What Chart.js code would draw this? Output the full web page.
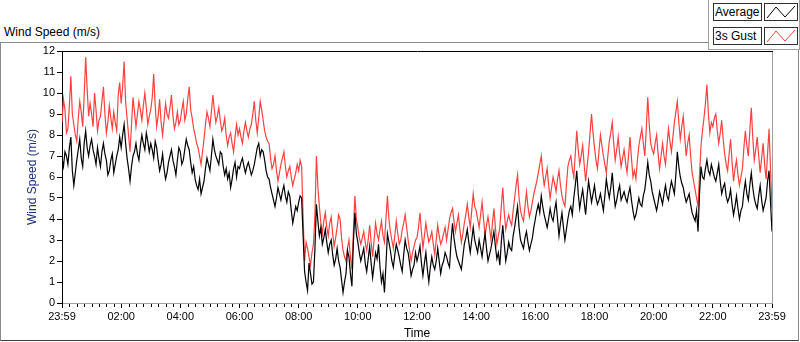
<!DOCTYPE html>
<html>
<head>
<meta charset="utf-8">
<script src="https://cdn.jsdelivr.net/npm/chart.js@4.4.1/dist/chart.umd.min.js"></script>
<style>
  html, body { margin: 0; padding: 0; background: #fff; }
  body { width: 800px; height: 342px; position: relative; overflow: hidden; font-family: "Liberation Sans", sans-serif; }
  #wrap { position: absolute; left: 0; top: 0; width: 800px; height: 342px; }
  .frame { position: absolute; left: 0; top: 42px; width: 797px; height: 297px; border: 1px solid #8a8a8a; border-bottom-color: #404040; }
  .topLabel { position: absolute; left: 4px; top: 25px; font-size: 12px; color: #000; }
  .legendPanel { position: absolute; left: 708px; top: -1px; width: 90px; height: 49px; border: 1px solid #a0a0a0; background: #fff; }
  .legText { position: absolute; left: 713px; width: 46px; height: 16px; border: 1px solid #303030; background: #fff; font-size: 12px; line-height: 16px; padding-left: 1px; }
  .legIcon { position: absolute; left: 764px; width: 32px; height: 16px; border: 1px solid #303030; background: #fff; }
</style>
</head>
<body>
<div class="frame"></div>
<div class="topLabel">Wind Speed (m/s)</div>
<div class="legendPanel"></div>
<div class="legText" style="top:3px">Average</div>
<div class="legIcon" style="top:3px"><svg width="32" height="16"><polyline points="2,14 11,3 20,13 30,2" fill="none" stroke="#000" stroke-width="1"/></svg></div>
<div class="legText" style="top:27px">3s Gust</div>
<div class="legIcon" style="top:27px"><svg width="32" height="16"><polyline points="2,14 11,3 20,13 30,2" fill="none" stroke="#ff4040" stroke-width="1"/></svg></div>
<div id="wrap"><canvas id="grafico" width="800" height="342"></canvas></div>
<script>
// Amostras a cada 3 minutos, das 23:59 às 23:59 do dia seguinte (1440 min)
const totalMinutes = 1440;

// Velocidade média (m/s)
const average = [
  6.9, 6.5, 7.2, 7.0, 6.6, 7.4, 7.9, 6.3, 5.6, 6.2, 6.8, 7.3, 7.8, 6.9, 6.5, 7.6, 8.2, 7.4, 7.0, 7.5,
  7.8, 7.3, 7.0, 6.6, 7.4, 6.9, 6.5, 7.2, 7.6, 7.1, 6.8, 6.1, 6.3, 6.8, 7.1, 6.2, 6.6, 7.0, 7.3, 7.9,
  7.4, 8.0, 8.5, 7.6, 6.9, 6.4, 5.8, 6.5, 7.0, 7.2, 7.6, 7.1, 6.8, 7.5, 8.0, 7.6, 7.3, 8.1, 7.7, 7.2,
  7.6, 7.3, 6.9, 7.7, 7.4, 6.8, 6.3, 6.6, 7.1, 6.4, 5.9, 6.2, 6.7, 7.0, 7.3, 6.8, 6.5, 6.1, 6.8, 7.4,
  7.2, 6.6, 6.8, 7.3, 7.8, 7.5, 7.3, 6.7, 6.2, 6.5, 5.9, 5.6, 5.4, 5.9, 5.2, 5.5, 5.8, 6.4, 6.9, 6.6,
  6.3, 7.0, 7.8, 7.3, 7.0, 6.8, 6.6, 7.2, 7.1, 6.5, 6.1, 6.4, 5.9, 6.2, 5.5, 5.9, 6.4, 6.7, 6.0, 6.5,
  6.4, 6.7, 6.9, 6.5, 6.2, 6.5, 6.7, 6.4, 6.1, 6.3, 6.6, 7.0, 7.4, 7.6, 7.0, 7.3, 7.2, 6.8, 6.3, 6.0,
  5.9, 5.5, 5.2, 4.9, 4.6, 5.0, 5.5, 5.2, 4.9, 5.3, 5.6, 5.1, 4.8, 5.3, 5.1, 4.4, 3.8, 4.2, 4.6, 4.4,
  4.8, 5.1, 5.0, 3.2, 1.5, 1.0, 0.6, 1.9, 1.4, 0.9, 1.0, 2.6, 4.7, 3.9, 3.2, 3.6, 2.8, 3.1, 3.5, 2.9,
  2.4, 2.8, 3.0, 2.3, 1.8, 2.1, 2.6, 2.0, 1.7, 1.1, 0.5, 1.0, 1.4, 2.5, 2.2, 1.4, 0.8, 2.9, 4.3, 3.3,
  2.9, 2.4, 2.0, 2.3, 2.6, 1.9, 1.5, 2.1, 2.7, 1.9, 1.2, 1.8, 2.4, 2.1, 2.8, 1.7, 1.0, 1.4, 0.5, 1.8,
  3.3, 2.9, 2.5, 2.0, 1.7, 2.3, 2.8, 2.5, 2.2, 1.8, 1.5, 2.3, 3.0, 2.6, 2.4, 1.9, 1.3, 1.6, 1.8, 2.4,
  2.0, 2.3, 2.7, 1.9, 1.3, 1.9, 2.4, 1.6, 1.0, 1.7, 2.2, 1.8, 1.6, 2.0, 2.6, 2.0, 1.4, 1.8, 2.0, 2.4,
  2.2, 1.9, 1.7, 2.9, 3.8, 3.1, 2.6, 2.2, 2.0, 1.8, 1.6, 2.2, 2.8, 3.1, 3.5, 2.9, 2.4, 3.0, 3.6, 3.0,
  2.7, 2.4, 3.0, 2.6, 2.2, 2.8, 3.3, 2.6, 2.0, 2.3, 2.6, 3.0, 3.4, 2.7, 2.1, 2.4, 1.8, 2.9, 3.7, 2.8,
  2.0, 2.4, 2.9, 2.6, 2.5, 3.2, 3.6, 4.1, 4.6, 3.6, 3.0, 2.8, 2.6, 3.1, 3.4, 2.9, 2.5, 2.8, 3.1, 3.6,
  4.0, 4.4, 4.7, 4.3, 5.1, 4.6, 4.2, 3.9, 3.6, 4.0, 4.5, 4.1, 3.9, 4.4, 4.8, 4.0, 3.2, 3.8, 4.3, 3.6,
  3.0, 3.5, 4.0, 4.4, 4.6, 4.2, 5.0, 5.6, 6.3, 5.2, 4.5, 5.0, 5.4, 4.8, 4.2, 5.1, 5.8, 5.3, 4.8, 5.2,
  5.6, 5.0, 4.7, 4.9, 5.2, 4.8, 4.4, 5.1, 5.9, 5.4, 5.0, 5.5, 6.2, 5.3, 4.6, 4.9, 5.3, 5.6, 4.9, 5.1,
  5.3, 5.0, 4.8, 5.2, 5.5, 4.9, 4.4, 4.0, 4.2, 4.6, 5.0, 4.7, 4.6, 5.1, 5.4, 6.0, 6.7, 6.1, 5.8, 5.3,
  5.0, 4.7, 4.4, 4.8, 5.3, 5.0, 4.7, 5.2, 5.6, 5.1, 4.9, 5.4, 5.8, 5.5, 5.2, 6.1, 7.2, 6.5, 6.0, 5.7,
  5.5, 5.1, 4.8, 5.0, 5.2, 4.7, 4.3, 4.1, 3.9, 4.4, 3.4, 5.2, 6.5, 6.0, 5.9, 6.4, 6.8, 6.3, 6.1, 6.6,
  6.3, 6.0, 5.8, 6.2, 6.6, 5.8, 5.2, 5.5, 5.7, 5.1, 4.8, 5.0, 5.4, 4.7, 4.2, 4.6, 5.1, 4.5, 4.0, 4.4,
  4.6, 5.3, 5.8, 5.2, 4.9, 5.6, 6.2, 5.5, 5.0, 4.7, 4.5, 5.1, 5.6, 4.9, 4.4, 4.7, 5.0, 5.8, 6.3, 4.8, 3.4
];

// Rajada de 3 s (m/s)
const gust = [
  8.6, 9.7, 9.2, 8.1, 8.3, 9.4, 10.8, 9.0, 8.5, 8.0, 7.7, 8.8, 9.6, 9.1, 8.4, 9.9, 11.7, 10.2, 8.9, 9.5,
  9.0, 8.4, 10.0, 9.2, 8.2, 8.7, 8.9, 9.6, 10.3, 9.0, 8.1, 8.6, 9.4, 8.8, 8.3, 9.1, 8.6, 8.2, 9.9, 10.5,
  9.5, 10.3, 11.5, 9.6, 8.8, 8.0, 7.2, 8.5, 9.8, 9.1, 8.4, 9.0, 9.6, 9.2, 8.7, 9.4, 10.0, 9.3, 8.5, 8.9,
  9.2, 9.8, 10.9, 9.4, 8.4, 8.9, 9.7, 8.6, 8.0, 8.7, 9.5, 9.0, 8.8, 9.3, 9.9, 8.9, 8.3, 8.6, 9.1, 8.5,
  8.7, 9.2, 9.6, 8.7, 9.0, 9.7, 10.3, 9.2, 8.8, 8.3, 8.0, 7.6, 7.4, 7.0, 6.6, 7.2, 7.8, 8.5, 9.1, 8.8,
  8.4, 9.1, 9.9, 9.2, 8.6, 8.9, 9.3, 8.7, 8.2, 8.4, 8.8, 8.0, 7.5, 7.9, 8.1, 7.6, 7.2, 7.9, 8.5, 8.0,
  8.3, 7.9, 7.6, 8.2, 8.6, 8.2, 7.9, 8.3, 8.5, 9.0, 9.6, 8.7, 8.1, 8.8, 9.6, 9.2, 8.7, 8.2, 7.9, 7.7,
  7.6, 6.9, 6.4, 6.6, 7.0, 6.3, 5.8, 6.2, 6.6, 6.9, 7.2, 6.5, 6.0, 6.3, 6.5, 6.0, 5.6, 5.9, 6.2, 6.6,
  6.3, 6.8, 6.5, 4.1, 2.0, 2.9, 2.6, 2.2, 1.8, 2.4, 2.8, 4.2, 7.0, 5.5, 4.6, 3.8, 3.3, 3.9, 4.3, 3.6,
  3.2, 3.8, 4.1, 3.3, 2.7, 3.1, 3.6, 4.2, 4.0, 3.1, 2.5, 2.2, 2.0, 2.6, 3.0, 2.2, 1.6, 3.4, 5.1, 4.0,
  3.6, 3.1, 2.8, 3.1, 3.4, 2.9, 2.5, 3.0, 3.7, 2.9, 2.2, 3.0, 3.8, 3.3, 3.0, 3.5, 3.9, 3.2, 2.9, 4.0,
  5.1, 4.0, 3.4, 3.0, 2.6, 3.2, 3.9, 3.3, 2.8, 3.0, 3.5, 3.8, 4.2, 3.6, 3.0, 2.5, 2.0, 2.4, 2.7, 3.0,
  3.1, 3.6, 4.3, 3.4, 2.6, 3.2, 3.8, 3.3, 2.9, 3.1, 3.4, 2.8, 2.3, 3.0, 3.7, 3.2, 2.8, 3.0, 3.3, 3.6,
  3.0, 3.5, 4.0, 4.3, 4.5, 3.9, 3.4, 3.8, 4.2, 3.5, 2.9, 3.3, 3.8, 4.2, 4.7, 4.1, 3.6, 4.4, 5.2, 4.6,
  4.4, 4.0, 3.6, 4.2, 4.8, 4.0, 3.2, 3.7, 4.1, 3.6, 3.0, 3.8, 4.5, 3.6, 2.8, 3.2, 3.6, 4.6, 5.5, 4.3,
  3.5, 3.9, 4.2, 3.9, 3.7, 4.4, 5.0, 5.6, 6.1, 5.0, 4.4, 4.1, 3.9, 4.6, 5.3, 4.6, 4.1, 4.4, 4.8, 5.2,
  5.5, 5.8, 6.2, 6.6, 7.0, 6.2, 5.6, 6.0, 6.4, 5.6, 5.0, 5.5, 6.0, 5.7, 5.3, 5.9, 6.3, 5.6, 5.1, 4.8,
  4.6, 5.6, 6.5, 6.8, 7.0, 6.4, 6.0, 7.1, 8.2, 7.3, 6.6, 7.0, 7.5, 6.6, 5.8, 6.5, 7.2, 8.1, 9.0, 8.1,
  7.4, 6.8, 6.4, 7.2, 8.0, 7.5, 7.0, 6.6, 6.2, 7.0, 7.7, 8.1, 8.6, 7.6, 6.8, 7.3, 7.9, 7.1, 6.5, 6.9,
  7.3, 6.7, 6.2, 7.0, 7.9, 6.9, 6.0, 6.3, 5.9, 6.8, 7.5, 7.9, 8.3, 7.6, 7.0, 8.3, 9.8, 8.5, 7.6, 7.3,
  7.1, 7.6, 8.0, 7.1, 6.4, 7.0, 7.6, 7.0, 6.6, 7.5, 8.3, 7.7, 7.2, 7.9, 8.6, 9.1, 9.6, 8.6, 7.8, 8.4,
  8.9, 7.9, 7.0, 7.6, 8.0, 7.0, 6.2, 5.8, 5.4, 5.0, 4.6, 6.1, 7.5, 8.2, 8.8, 9.5, 10.4, 9.0, 8.1, 8.6,
  8.4, 8.8, 9.0, 8.2, 7.6, 8.1, 8.7, 7.8, 7.1, 6.6, 6.3, 7.1, 7.8, 6.7, 5.8, 6.4, 6.8, 6.1, 5.6, 6.0,
  6.4, 7.4, 8.2, 7.5, 7.0, 8.2, 9.3, 7.9, 6.8, 7.3, 7.9, 7.0, 6.2, 6.9, 7.6, 6.6, 5.9, 7.1, 8.3, 6.4, 4.5
];

// Rótulos do eixo X (a cada 2 horas)
const timeLabels = ['23:59', '02:00', '04:00', '06:00', '08:00', '10:00', '12:00',
                    '14:00', '16:00', '18:00', '20:00', '22:00', '23:59'];
const yTicks = [0, 1, 2, 3, 4, 5, 6, 7, 8, 9, 10, 11, 12];

const toPoints = arr => arr.map((v, i) => ({ x: i * totalMinutes / (arr.length - 1), y: v }));
const fonteTicks = { family: '"Liberation Sans", sans-serif', size: 11 };
const fonteTitulo = { family: '"Liberation Sans", sans-serif', size: 12 };

// Moldura da área do gráfico + marcas menores do eixo X (15 min)
const moldura = {
  id: 'moldura',
  afterDraw(chart) {
    const { ctx, chartArea: a, scales: { x } } = chart;
    ctx.save();
    ctx.lineWidth = 1;
    ctx.strokeStyle = '#a0a0a0';
    ctx.beginPath();
    ctx.moveTo(a.right + 0.5, a.top);
    ctx.lineTo(a.right + 0.5, a.bottom + 0.5);
    ctx.stroke();
    ctx.strokeStyle = '#000';
    ctx.beginPath();
    ctx.moveTo(a.left, a.top + 0.5);
    ctx.lineTo(a.right + 1, a.top + 0.5);
    ctx.stroke();
    ctx.beginPath();
    for (let m = 0; m <= totalMinutes; m += 15) {
      if (m % 120 === 0) continue;
      const px = Math.round(x.getPixelForValue(m)) + 0.5;
      ctx.moveTo(px, a.bottom + 1);
      ctx.lineTo(px, a.bottom + 4);
    }
    ctx.stroke();
    ctx.restore();
  }
};

const ctx = document.getElementById('grafico').getContext('2d');

new Chart(ctx, {
  type: 'line',
  data: {
    datasets: [{
      label: 'Average',
      data: toPoints(average),
      borderColor: '#000000',
      borderWidth: 1.2,
      pointRadius: 0,
      tension: 0
    }, {
      label: '3s Gust',
      data: toPoints(gust),
      borderColor: '#ff4040',
      borderWidth: 1.2,
      pointRadius: 0,
      tension: 0
    }]
  },
  options: {
    responsive: false,
    animation: false,
    layout: { padding: { left: 0, top: 51, right: 28, bottom: 0 } },
    plugins: {
      legend: { display: false },
      tooltip: { enabled: false }
    },
    scales: {
      x: {
        type: 'linear',
        min: 0,
        max: totalMinutes,
        afterFit: s => { s.height = 39; },
        afterBuildTicks: s => { s.ticks = timeLabels.map((_, i) => ({ value: i * 120 })); },
        ticks: {
          autoSkip: false,
          maxRotation: 0,
          padding: 2,
          color: '#000',
          font: fonteTicks,
          callback: (v) => timeLabels[Math.round(v / 120)]
        },
        grid: { drawOnChartArea: false, tickLength: 5, tickColor: '#000' },
        border: { color: '#a0a0a0' },
        title: { display: true, text: 'Time', color: '#000', font: fonteTitulo, padding: { top: 0, bottom: 1 } }
      },
      y: {
        min: 0,
        max: 12,
        afterFit: s => { s.width = 62; },
        afterBuildTicks: s => { s.ticks = yTicks.map(v => ({ value: v })); },
        ticks: { padding: 2, color: '#000', font: fonteTicks },
        grid: { drawOnChartArea: false, tickLength: 5, tickColor: '#000' },
        border: { color: '#000' },
        title: { display: true, text: 'Wind Speed (m/s)', color: '#1c2f7a', font: fonteTitulo, padding: { top: 25, bottom: 0 } }
      }
    }
  },
  plugins: [moldura]
});
</script>
</body>
</html>
